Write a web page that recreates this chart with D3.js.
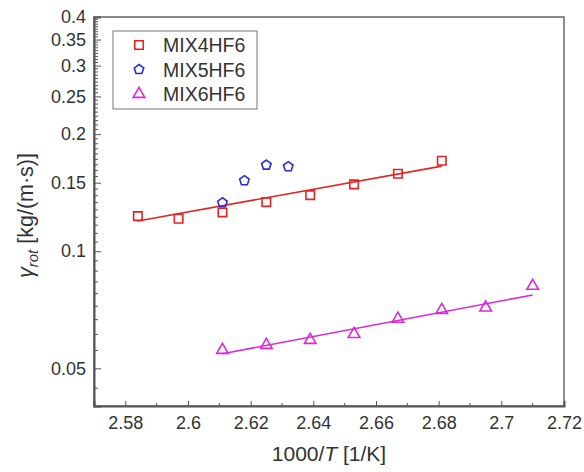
<!DOCTYPE html>
<html>
<head>
<meta charset="utf-8">
<script src="https://cdn.jsdelivr.net/npm/d3@7"></script>
<style>
  body { margin: 0; background: #fff; }
  text { font-family: 'Liberation Sans', Arial, sans-serif; fill: #333; }
</style>
</head>
<body>
<div id="chart"></div>
<script>
// Data
const series = ['MIX4HF6', 'MIX5HF6', 'MIX6HF6'];

const mix4X = [2.584, 2.597, 2.611, 2.625, 2.639, 2.653, 2.667, 2.681];
const mix4Y = [0.1231, 0.1212, 0.1258, 0.1337, 0.1394, 0.1485, 0.1582, 0.1708];

const mix5X = [2.611, 2.618, 2.625, 2.632];
const mix5Y = [0.1332, 0.1518, 0.1665, 0.1649];

const mix6X = [2.611, 2.625, 2.639, 2.653, 2.667, 2.681, 2.695, 2.710];
const mix6Y = [0.0557, 0.0574, 0.0591, 0.0612, 0.0670, 0.0706, 0.0716, 0.0814];

// fitted lines (end points)
const fit4X = [2.584, 2.681];
const fit4Y = [0.1196, 0.1655];
const fit6X = [2.611, 2.710];
const fit6Y = [0.0545, 0.0772];

const xTicks = [2.58, 2.6, 2.62, 2.64, 2.66, 2.68, 2.7, 2.72];
const yTicks = [0.05, 0.1, 0.15, 0.2, 0.25, 0.3, 0.35, 0.4];

const colors = ['#e02525', '#2b2bd0', '#d62ad6'];
const shapes = [d3.symbolSquare, 'pentagon', d3.symbolTriangle];

const W = 584;
const H = 472;
const margin = { t: 17, r: 20, b: 66, l: 94 };
const width = W - margin.l - margin.r;
const height = H - margin.t - margin.b;

const svg = d3.select('#chart').append('svg')
  .attr('width', W)
  .attr('height', H);

const g = svg.append('g').attr('transform', `translate(${margin.l},${margin.t})`);

const xScale = d3.scaleLinear().domain([2.57, 2.72]).range([0, width]);
const yScale = d3.scaleLog().domain([0.04, 0.4]).range([height, 0]);

const fmt = (d) => String(+d.toFixed(2));

// minor ticks
const xMinor = d3.range(2.57, 2.7201, 0.01).filter((v) => xTicks.every((t) => Math.abs(t - v) > 1e-6));
const yMinor = [];
for (let m = 0; m < 0.4; m += 0.05) {
  for (let k = 1; k <= 8; k++) {
    const v = m + (k * 0.05) / 9;
    if (v >= 0.04 && v <= 0.4) yMinor.push(v);
  }
}

// frame
g.append('rect')
  .attr('width', width)
  .attr('height', height)
  .attr('fill', 'none')
  .attr('stroke', '#666')
  .attr('stroke-width', 1.5);

// x axis
const xAxis = g.append('g')
  .attr('transform', `translate(0,${height})`)
  .call(d3.axisBottom(xScale).tickValues(xTicks).tickFormat(fmt).tickSize(-5).tickPadding(10));
xAxis.select('.domain').attr('stroke', '#555').attr('stroke-width', 2);
xAxis.selectAll('.tick line').attr('stroke', '#555');
xAxis.selectAll('text').style('font-size', '18px').attr('fill', '#333');

g.append('g')
  .attr('transform', `translate(0,${height})`)
  .selectAll('line')
  .data(xMinor)
  .join('line')
  .attr('x1', (d) => xScale(d))
  .attr('x2', (d) => xScale(d))
  .attr('y1', 0)
  .attr('y2', -3)
  .attr('stroke', '#555');

// y axis
const yAxis = g.append('g')
  .call(d3.axisLeft(yScale).tickValues(yTicks).tickFormat(fmt).tickSize(-7).tickPadding(8));
yAxis.select('.domain').attr('stroke', '#555').attr('stroke-width', 2);
yAxis.selectAll('.tick line').attr('stroke', '#555');
yAxis.selectAll('text').style('font-size', '18px').attr('fill', '#333');

g.append('g')
  .selectAll('line')
  .data(yMinor)
  .join('line')
  .attr('x1', 0)
  .attr('x2', 4)
  .attr('y1', (d) => yScale(d))
  .attr('y2', (d) => yScale(d))
  .attr('stroke', '#555');

// axis names
g.append('text')
  .attr('text-anchor', 'middle')
  .attr('x', width / 2)
  .attr('y', height + 55)
  .style('font-size', '21px')
  .html('1000/<tspan font-style="italic">T</tspan> [1/K]');

g.append('text')
  .attr('text-anchor', 'middle')
  .attr('transform', `translate(${33 - margin.l},${height / 2 + 4})rotate(-90)`)
  .style('font-size', '21.5px')
  .html('<tspan font-style="italic">γ</tspan><tspan font-style="italic" font-size="15px" dy="5">rot</tspan><tspan dy="-5"> [kg/(m·s)]</tspan>');

// symbol paths
const pentagon = (r) => {
  const pts = d3.range(5).map((i) => {
    const a = -Math.PI / 2 + (i * 2 * Math.PI) / 5;
    return [r * Math.cos(a), r * Math.sin(a)];
  });
  return `M${pts.join('L')}Z`;
};
const symbolPath = (i) => {
  if (shapes[i] === 'pentagon') return pentagon(5);
  if (shapes[i] === d3.symbolTriangle) return d3.symbol(d3.symbolTriangle, 58)();
  return d3.symbol(d3.symbolSquare, 72)();
};

// fit lines
const line = d3.line().x((d) => xScale(d[0])).y((d) => yScale(d[1]));
g.append('path')
  .datum(d3.zip(fit4X, fit4Y))
  .attr('d', line)
  .attr('fill', 'none')
  .attr('stroke', colors[0])
  .attr('stroke-width', 1.6);
g.append('path')
  .datum(d3.zip(fit6X, fit6Y))
  .attr('d', line)
  .attr('fill', 'none')
  .attr('stroke', colors[2])
  .attr('stroke-width', 1.6);

// points
const allData = [d3.zip(mix4X, mix4Y), d3.zip(mix5X, mix5Y), d3.zip(mix6X, mix6Y)];
allData.forEach((pts, i) => {
  g.append('g')
    .selectAll('path')
    .data(pts)
    .join('path')
    .attr('d', symbolPath(i))
    .attr('transform', (d) => `translate(${xScale(d[0])},${yScale(d[1])})`)
    .attr('fill', 'none')
    .attr('stroke', colors[i])
    .attr('stroke-width', 1.6);
});

// legend
const legend = svg.append('g').attr('transform', 'translate(113,31)');
legend.append('rect')
  .attr('width', 144)
  .attr('height', 78)
  .attr('fill', '#fff')
  .attr('stroke', '#777')
  .attr('stroke-width', 1);
series.forEach((name, i) => {
  const yy = 14 + i * 24.5;
  legend.append('path')
    .attr('d', symbolPath(i))
    .attr('transform', `translate(26,${yy})`)
    .attr('fill', 'none')
    .attr('stroke', colors[i])
    .attr('stroke-width', 1.6);
  legend.append('text')
    .attr('x', 50)
    .attr('y', yy + 7)
    .style('font-size', '19.5px')
    .text(name);
});
</script>
</body>
</html>
